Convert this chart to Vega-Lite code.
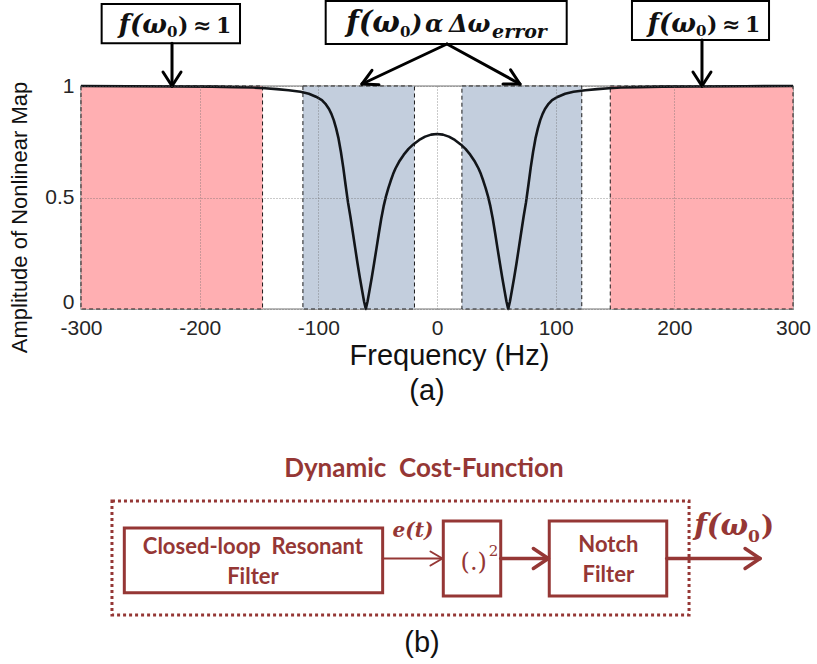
{
  "$schema": "https://vega.github.io/schema/vega-lite/v6.json",
  "width": 712,
  "height": 223,
  "autosize": {"type": "none"},
  "padding": {"left": 81, "top": 86, "right": 24, "bottom": 355},
  "background": "white",
  "config": {"view": {"stroke": "#a3a3a3", "strokeWidth": 1.5}, "font": "Liberation Sans"},
  "datasets": {
    "regions": [
      {"x": -300, "x2": -147, "y": 0, "y2": 1, "zone": "flat"},
      {"x": -113, "x2": -19, "y": 0, "y2": 1, "zone": "notch"},
      {"x": 21, "x2": 122, "y": 0, "y2": 1, "zone": "notch"},
      {"x": 146, "x2": 300, "y": 0, "y2": 1, "zone": "flat"}
    ],
    "curve": [
      {"x": -300, "y": 1.0}, {"x": -260, "y": 0.999}, {"x": -220, "y": 0.998}, {"x": -190, "y": 0.997},
      {"x": -170, "y": 0.995}, {"x": -155, "y": 0.993}, {"x": -145, "y": 0.99}, {"x": -135, "y": 0.986},
      {"x": -125, "y": 0.981}, {"x": -115, "y": 0.974}, {"x": -108, "y": 0.965}, {"x": -102, "y": 0.952},
      {"x": -97, "y": 0.937}, {"x": -94, "y": 0.92}, {"x": -91, "y": 0.897}, {"x": -89, "y": 0.875},
      {"x": -87, "y": 0.847}, {"x": -85, "y": 0.81}, {"x": -83, "y": 0.765}, {"x": -81, "y": 0.705},
      {"x": -79, "y": 0.635}, {"x": -77, "y": 0.555}, {"x": -75, "y": 0.478}, {"x": -73, "y": 0.415},
      {"x": -71, "y": 0.345}, {"x": -69, "y": 0.275}, {"x": -67, "y": 0.205}, {"x": -65, "y": 0.14},
      {"x": -63, "y": 0.08}, {"x": -61.5, "y": 0.035}, {"x": -60, "y": 0.0},
      {"x": -58.5, "y": 0.035}, {"x": -57, "y": 0.08}, {"x": -55, "y": 0.14}, {"x": -53, "y": 0.205},
      {"x": -51, "y": 0.272}, {"x": -49, "y": 0.34}, {"x": -47, "y": 0.405}, {"x": -45, "y": 0.46},
      {"x": -43, "y": 0.505}, {"x": -41, "y": 0.542}, {"x": -39, "y": 0.575}, {"x": -37, "y": 0.605},
      {"x": -35, "y": 0.63}, {"x": -32, "y": 0.66}, {"x": -28, "y": 0.692}, {"x": -24, "y": 0.718},
      {"x": -20, "y": 0.738}, {"x": -15, "y": 0.758}, {"x": -10, "y": 0.773}, {"x": -5, "y": 0.782},
      {"x": 0, "y": 0.785},
      {"x": 5, "y": 0.782}, {"x": 10, "y": 0.773}, {"x": 15, "y": 0.758}, {"x": 20, "y": 0.738},
      {"x": 24, "y": 0.718}, {"x": 28, "y": 0.692}, {"x": 32, "y": 0.66}, {"x": 35, "y": 0.63},
      {"x": 37, "y": 0.605}, {"x": 39, "y": 0.575}, {"x": 41, "y": 0.542}, {"x": 43, "y": 0.505},
      {"x": 45, "y": 0.46}, {"x": 47, "y": 0.405}, {"x": 49, "y": 0.34}, {"x": 51, "y": 0.272},
      {"x": 53, "y": 0.205}, {"x": 55, "y": 0.14}, {"x": 57, "y": 0.08}, {"x": 58.5, "y": 0.035},
      {"x": 60, "y": 0.0},
      {"x": 61.5, "y": 0.035}, {"x": 63, "y": 0.08}, {"x": 65, "y": 0.14}, {"x": 67, "y": 0.205},
      {"x": 69, "y": 0.275}, {"x": 71, "y": 0.345}, {"x": 73, "y": 0.415}, {"x": 75, "y": 0.478},
      {"x": 77, "y": 0.555}, {"x": 79, "y": 0.635}, {"x": 81, "y": 0.705}, {"x": 83, "y": 0.765},
      {"x": 85, "y": 0.81}, {"x": 87, "y": 0.847}, {"x": 89, "y": 0.875}, {"x": 91, "y": 0.897},
      {"x": 94, "y": 0.92}, {"x": 97, "y": 0.937}, {"x": 102, "y": 0.952}, {"x": 108, "y": 0.965},
      {"x": 115, "y": 0.974}, {"x": 125, "y": 0.981}, {"x": 135, "y": 0.986}, {"x": 145, "y": 0.99},
      {"x": 155, "y": 0.993}, {"x": 170, "y": 0.995}, {"x": 190, "y": 0.997}, {"x": 220, "y": 0.998},
      {"x": 260, "y": 0.999}, {"x": 300, "y": 1.0}
    ],
    "annoBoxes": [
      {"x": -282.6, "x2": -166.0, "y": 1.1915, "y2": 1.3677},
      {"x": -93.8, "x2": 109.3, "y": 1.1883, "y2": 1.381},
      {"x": 164.3, "x2": 279.8, "y": 1.2063, "y2": 1.381}
    ],
    "annoArrows": [
      {"x": -223.3, "y": 1.1915, "x2": -223.3, "y2": 1.0},
      {"x": -223.3, "y": 1.0, "x2": -230.9, "y2": 1.0628},
      {"x": -223.3, "y": 1.0, "x2": -215.7, "y2": 1.0628},
      {"x": 223.3, "y": 1.2063, "x2": 223.3, "y2": 1.0},
      {"x": 223.3, "y": 1.0, "x2": 215.7, "y2": 1.0628},
      {"x": 223.3, "y": 1.0, "x2": 230.9, "y2": 1.0628},
      {"x": 8.4, "y": 1.1883, "x2": -63.2, "y2": 1.009},
      {"x": -63.2, "y": 1.009, "x2": -48.9, "y2": 1.0058},
      {"x": -63.2, "y": 1.009, "x2": -54.8, "y2": 1.0704},
      {"x": 8.4, "y": 1.1883, "x2": 69.9, "y2": 1.009},
      {"x": 69.9, "y": 1.009, "x2": 55.6, "y2": 1.009},
      {"x": 69.9, "y": 1.009, "x2": 62.0, "y2": 1.0726}
    ],
    "fwSmall": [
      {"x": -227.5, "y": 1.2377, "label": "f(ω"},
      {"x": 218.3, "y": 1.2422, "label": "f(ω"}
    ],
    "fwBig": [
      {"x": -31.2, "y": 1.2422, "label": "f(ω"}
    ],
    "subs": [
      {"x": -227.5, "y": 1.2197, "label": "0"},
      {"x": 218.3, "y": 1.2242, "label": "0"},
      {"x": -31.2, "y": 1.2197, "label": "0"}
    ],
    "smallUpright": [
      {"x": -218.3, "y": 1.2377, "label": ")"},
      {"x": -205.6, "y": 1.2377, "label": "≈"},
      {"x": -186.2, "y": 1.2377, "label": "1"},
      {"x": 227.5, "y": 1.2422, "label": ")"},
      {"x": 240.2, "y": 1.2422, "label": "≈"},
      {"x": 259.5, "y": 1.2422, "label": "1"}
    ],
    "bigRest": [
      {"x": -21.9, "y": 1.2422, "label": ")"},
      {"x": -10.1, "y": 1.2422, "label": "α"},
      {"x": 10.1, "y": 1.2422, "label": "Δω"}
    ],
    "bigSubWord": [
      {"x": 46.4, "y": 1.2152, "label": "error"}
    ],
    "diagFrame": [
      {"x": -273.9, "x2": 212.4, "y": -0.861, "y2": -1.372}
    ],
    "diagBoxes": [
      {"x": -263.5, "x2": -45.8, "y": -0.982, "y2": -1.272},
      {"x": 5.3, "x2": 53.7, "y": -0.951, "y2": -1.287},
      {"x": 94.6, "x2": 193.6, "y": -0.951, "y2": -1.287}
    ],
    "linkThin": [
      {"x": -45.8, "y": -1.1188, "x2": 4.6, "y2": -1.1188},
      {"x": 4.6, "y": -1.1188, "x2": -5.5, "y2": -1.0874},
      {"x": 4.6, "y": -1.1188, "x2": -5.5, "y2": -1.1502}
    ],
    "linkThick": [
      {"x": 53.7, "y": -1.1188, "x2": 93.8, "y2": -1.1188},
      {"x": 93.8, "y": -1.1188, "x2": 81.2, "y2": -1.074},
      {"x": 93.8, "y": -1.1188, "x2": 81.2, "y2": -1.1637},
      {"x": 193.6, "y": -1.1188, "x2": 272.2, "y2": -1.1188},
      {"x": 272.2, "y": -1.1188, "x2": 259.6, "y2": -1.074},
      {"x": 272.2, "y": -1.1188, "x2": 259.6, "y2": -1.1637}
    ],
    "diagTitle": [
      {"x": -11.0, "y": -0.7175, "label": "Dynamic\u00a0\u00a0Cost-Function"}
    ],
    "diagLabels": [
      {"x": -155.1, "y": -1.066, "label": "Closed-loop\u00a0\u00a0Resonant"},
      {"x": -155.1, "y": -1.2, "label": "Filter"},
      {"x": 144.4, "y": -1.058, "label": "Notch"},
      {"x": 144.4, "y": -1.193, "label": "Filter"}
    ],
    "diagSignal": [
      {"x": -20.2, "y": -0.9955, "label": "e(t)"}
    ],
    "diagFw": [
      {"x": 262.1, "y": -1.0135, "label": "f(ω"}
    ],
    "diagParen": [
      {"x": 273.0, "y": -1.0135, "label": ")"}
    ],
    "diagOutSub": [
      {"x": 262.1, "y": -1.0448, "label": "0"}
    ],
    "diagSquare": [
      {"x": 42.1, "y": -1.1704, "label": "(.)"}
    ],
    "diagPower": [
      {"x": 43.6, "y": -1.1076, "label": "2"}
    ],
    "captions": [
      {"x": -8.4, "y": -0.3677, "label": "(a)"},
      {"x": -12.6, "y": -1.498, "label": "(b)"}
    ]
  },
  "encoding": {
    "x": {
      "field": "x",
      "type": "quantitative",
      "scale": {"domain": [-300, 300], "nice": false, "zero": false},
      "axis": {
        "values": [-300, -200, -100, 0, 100, 200, 300],
        "labelExpr": "datum.value + ''",
        "ticks": false,
        "domain": false,
        "grid": true,
        "gridColor": "#666666",
        "gridOpacity": 0.7,
        "gridDash": [1, 2],
        "gridWidth": 1,
        "labelFont": "Liberation Sans",
        "labelFontSize": 21,
        "labelColor": "#262626",
        "labelPadding": 8,
        "labelFlush": false,
        "labelOverlap": false,
        "title": "Frequency (Hz)",
        "titleFont": "Liberation Sans",
        "titleFontSize": 29,
        "titleFontWeight": "normal",
        "titleColor": "#111111",
        "titlePadding": 3,
        "titleX": 368,
        "zindex": 1
      }
    },
    "y": {
      "field": "y",
      "type": "quantitative",
      "scale": {"domain": [0, 1], "nice": false, "zero": false},
      "axis": {
        "values": [0, 0.5, 1],
        "labelExpr": "datum.value + ''",
        "ticks": false,
        "domain": false,
        "grid": true,
        "gridColor": "#666666",
        "gridOpacity": 0.7,
        "gridDash": [1, 2],
        "gridWidth": 1,
        "labelFont": "Liberation Sans",
        "labelFontSize": 21,
        "labelColor": "#262626",
        "labelPadding": 7,
        "labelFlush": false,
        "labelOffset": {"condition": {"test": "datum.value === 0", "value": -7}, "value": 0},
        "title": "Amplitude of Nonlinear Map",
        "titleFont": "Liberation Sans",
        "titleFontSize": 22,
        "titleFontWeight": "normal",
        "titleColor": "#111111",
        "titlePadding": 13,
        "titleY": 131,
        "zindex": 1
      }
    }
  },
  "layer": [
    {
      "data": {"name": "regions"},
      "mark": {"type": "rect", "stroke": "#1a1a1a", "strokeWidth": 1, "strokeDash": [4, 3]},
      "encoding": {
        "x2": {"field": "x2"},
        "y2": {"field": "y2"},
        "fill": {"field": "zone", "type": "nominal", "scale": {"domain": ["flat", "notch"], "range": ["#ffafb2", "#c3cedd"]}, "legend": null}
      }
    },
    {
      "data": {"name": "curve"},
      "mark": {"type": "line", "stroke": "#121519", "strokeWidth": 2.6, "strokeJoin": "round"},
      "encoding": {}
    },
    {
      "data": {"name": "annoBoxes"},
      "mark": {"type": "rect", "fill": "white", "stroke": "black", "strokeWidth": 2},
      "encoding": {"x2": {"field": "x2"}, "y2": {"field": "y2"}}
    },
    {
      "data": {"name": "annoArrows"},
      "mark": {"type": "rule", "stroke": "black", "strokeWidth": 3, "strokeCap": "round"},
      "encoding": {"x2": {"field": "x2"}, "y2": {"field": "y2"}}
    },
    {
      "data": {"name": "fwSmall"},
      "mark": {"type": "text", "font": "DejaVu Serif", "fontStyle": "italic", "fontWeight": "bold", "fontSize": 26, "color": "#111111", "baseline": "alphabetic", "align": "right"},
      "encoding": {"text": {"field": "label"}}
    },
    {
      "data": {"name": "fwBig"},
      "mark": {"type": "text", "font": "DejaVu Serif", "fontStyle": "italic", "fontWeight": "bold", "fontSize": 29, "color": "#111111", "baseline": "alphabetic", "align": "right"},
      "encoding": {"text": {"field": "label"}}
    },
    {
      "data": {"name": "subs"},
      "mark": {"type": "text", "font": "DejaVu Serif", "fontWeight": "bold", "fontSize": 15, "color": "#111111", "baseline": "alphabetic", "align": "left"},
      "encoding": {"text": {"field": "label"}}
    },
    {
      "data": {"name": "smallUpright"},
      "mark": {"type": "text", "font": "DejaVu Serif", "fontWeight": "bold", "fontSize": 22, "color": "#111111", "baseline": "alphabetic", "align": "left"},
      "encoding": {"text": {"field": "label"}}
    },
    {
      "data": {"name": "bigRest"},
      "mark": {"type": "text", "font": "DejaVu Serif", "fontStyle": "italic", "fontWeight": "bold", "fontSize": 24, "color": "#111111", "baseline": "alphabetic", "align": "left"},
      "encoding": {"text": {"field": "label"}}
    },
    {
      "data": {"name": "bigSubWord"},
      "mark": {"type": "text", "font": "DejaVu Serif", "fontStyle": "italic", "fontWeight": "bold", "fontSize": 19, "color": "#111111", "baseline": "alphabetic", "align": "left"},
      "encoding": {"text": {"field": "label"}}
    },
    {
      "data": {"name": "diagFrame"},
      "mark": {"type": "rect", "filled": false, "stroke": "#953735", "strokeWidth": 3, "strokeDash": [3, 3]},
      "encoding": {"x2": {"field": "x2"}, "y2": {"field": "y2"}}
    },
    {
      "data": {"name": "diagBoxes"},
      "mark": {"type": "rect", "fill": "white", "stroke": "#953735", "strokeWidth": 3},
      "encoding": {"x2": {"field": "x2"}, "y2": {"field": "y2"}}
    },
    {
      "data": {"name": "linkThin"},
      "mark": {"type": "rule", "stroke": "#953735", "strokeWidth": 2, "strokeCap": "round"},
      "encoding": {"x2": {"field": "x2"}, "y2": {"field": "y2"}}
    },
    {
      "data": {"name": "linkThick"},
      "mark": {"type": "rule", "stroke": "#953735", "strokeWidth": 3.5, "strokeCap": "round"},
      "encoding": {"x2": {"field": "x2"}, "y2": {"field": "y2"}}
    },
    {
      "data": {"name": "diagTitle"},
      "mark": {"type": "text", "font": "Lato", "fontWeight": "bold", "fontSize": 26, "color": "#953735", "baseline": "middle", "align": "center"},
      "encoding": {"text": {"field": "label"}}
    },
    {
      "data": {"name": "diagLabels"},
      "mark": {"type": "text", "font": "Lato", "fontWeight": "bold", "fontSize": 22, "color": "#953735", "baseline": "middle", "align": "center"},
      "encoding": {"text": {"field": "label"}}
    },
    {
      "data": {"name": "diagSignal"},
      "mark": {"type": "text", "font": "DejaVu Serif", "fontStyle": "italic", "fontWeight": "bold", "fontSize": 20, "color": "#953735", "baseline": "middle", "align": "center"},
      "encoding": {"text": {"field": "label"}}
    },
    {
      "data": {"name": "diagFw"},
      "mark": {"type": "text", "font": "DejaVu Serif", "fontStyle": "italic", "fontWeight": "bold", "fontSize": 29, "color": "#953735", "baseline": "alphabetic", "align": "right"},
      "encoding": {"text": {"field": "label"}}
    },
    {
      "data": {"name": "diagParen"},
      "mark": {"type": "text", "font": "DejaVu Serif", "fontWeight": "bold", "fontSize": 28, "color": "#953735", "baseline": "alphabetic", "align": "left"},
      "encoding": {"text": {"field": "label"}}
    },
    {
      "data": {"name": "diagOutSub"},
      "mark": {"type": "text", "font": "DejaVu Serif", "fontWeight": "bold", "fontSize": 17, "color": "#953735", "baseline": "alphabetic", "align": "left"},
      "encoding": {"text": {"field": "label"}}
    },
    {
      "data": {"name": "diagSquare"},
      "mark": {"type": "text", "font": "DejaVu Serif", "fontSize": 24, "color": "#953735", "baseline": "alphabetic", "align": "right"},
      "encoding": {"text": {"field": "label"}}
    },
    {
      "data": {"name": "diagPower"},
      "mark": {"type": "text", "font": "DejaVu Serif", "fontSize": 15, "color": "#953735", "baseline": "alphabetic", "align": "left"},
      "encoding": {"text": {"field": "label"}}
    },
    {
      "data": {"name": "captions"},
      "mark": {"type": "text", "font": "Liberation Sans", "fontSize": 29, "color": "#111111", "baseline": "middle", "align": "center"},
      "encoding": {"text": {"field": "label"}}
    }
  ]
}
